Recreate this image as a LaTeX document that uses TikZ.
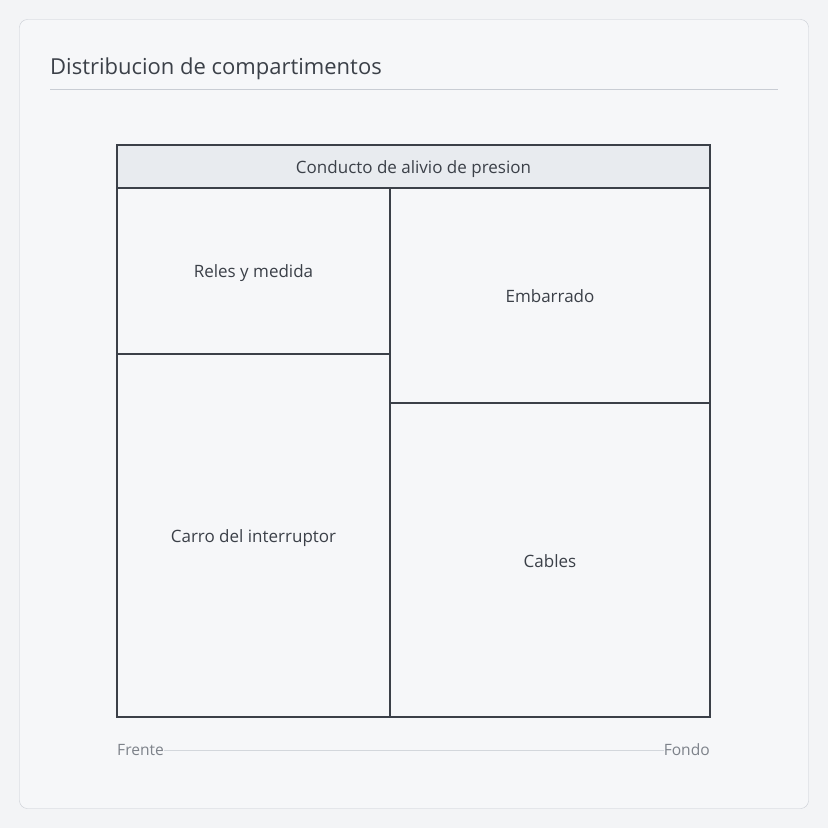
\documentclass[tikz,border=0pt]{standalone}
\usepackage{fontspec}
\setmainfont{Open Sans}
\usetikzlibrary{positioning,calc}
\definecolor{pagebg}{HTML}{F3F4F6}
\definecolor{cardbg}{HTML}{F6F7F9}
\definecolor{cardline}{HTML}{C9CDD4}
\definecolor{ink}{HTML}{3B4048}
\definecolor{band}{HTML}{E8EBEF}
\definecolor{muted}{HTML}{7D828A}
\definecolor{axisline}{HTML}{D3D7DC}

\begin{document}
\begin{tikzpicture}[x=1pt,y=-1pt,
	cell/.style={font=\fontsize{17}{20}\selectfont,text=ink},
	axislabel/.style={font=\fontsize{15.6}{18}\selectfont,text=muted,inner sep=0pt}]
	\fill[pagebg] (0,0) rectangle (828,828);
	\useasboundingbox (0,0) rectangle (828,828);
	\draw[cardline,fill=cardbg,rounded corners=8] (19.5,19.5) rectangle (808.5,808.5);

\node[anchor=base west,inner sep=0pt,text=ink,font=\fontsize{22}{26}\selectfont] (title) at (50,74) {Distribucion de compartimentos};
\draw[cardline] (50,89) -- (778,89);

% compartimentos
\fill[band] (117,145) rectangle (710,188);
\draw[ink,line width=1.3] (117,188) -- (710,188);
\draw[ink,line width=1.3] (390,188) -- (390,717);
\draw[ink,line width=1.3] (117,354) -- (390,354);
\draw[ink,line width=1.3] (390,403) -- (710,403);
\draw[ink,line width=2] (117,145) rectangle (710,717);

\node[cell] (duct) at (413.5,169) {Conducto de alivio de presion};
\node[cell] (reles) at (253.5,273) {Reles y medida};
\node[cell] (carro) at (253.5,538) {Carro del interruptor};
\node[cell] (barras) at (550,296) {Embarrado};
\node[cell] (cables) at (550,561) {Cables};

\node[axislabel,anchor=west] (frente) at (117,750) {Frente};
\node[axislabel,anchor=east] (fondo) at (710,750) {Fondo};
\draw[axisline] (frente) -- (fondo);
\end{tikzpicture}
\end{document}
